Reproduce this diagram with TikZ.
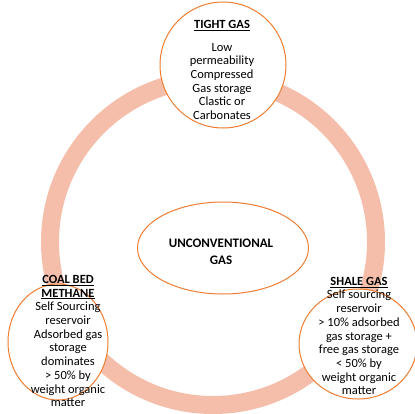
\documentclass[tikz,border=0pt]{standalone}
\usepackage{fontspec}
\setmainfont{Carlito}
\usetikzlibrary{shapes.geometric}

\definecolor{ringpink}{RGB}{245,190,170}
\definecolor{rim}{RGB}{237,125,49}

\begin{document}
\begin{tikzpicture}[x=1pt,y=-1pt,
        gasring/.style={circle,draw=ringpink,line width=18pt,minimum size=326pt,inner sep=0pt},
        bubble/.style={ellipse,draw=rim,fill=white,line width=1pt,inner sep=0pt},
        blurb/.style={align=center,inner sep=0pt,font=\fontsize{12.5}{13.7}\selectfont},
        hub/.style={align=center,inner sep=0pt,font=\fontsize{13}{17.5}\selectfont\bfseries}]
      \useasboundingbox (0,0) rectangle (415,413);
      % the ring behind everything
      \node [gasring] (cycle) at (213,242) {};
      % the four ellipses
      \node [bubble,minimum width=126pt,minimum height=126pt] (tight) at (223,65)  {};
      \node [bubble,minimum width=100pt,minimum height=116pt] (coal)  at (58,342)  {};
      \node [bubble,minimum width=118pt,minimum height=110pt] (shale) at (358,344) {};
      \node [bubble,minimum width=171pt,minimum height=92pt]  (core)  at (223,248) {};
      % their texts
      \node [blurb] (tighttext) at (222,70)
        {\underline{\textbf{TIGHT GAS}}\\[9pt] Low\\ permeability\\ Compressed\\
         Gas storage\\ Clastic or\\ Carbonates};
      \node [blurb] (coaltext) at (68,341)
        {\underline{\textbf{COAL BED}}\\ \underline{\textbf{METHANE}}\\ Self Sourcing\\
         reservoir\\ Adsorbed gas\\ storage\\ dominates\\ > 50\% by\\
         weight organic\\ matter};
      \node [blurb] (shaletext) at (359,336)
        {\underline{\textbf{SHALE GAS}}\\ Self sourcing\\ reservoir\\ > 10\% adsorbed\\
         gas storage +\\ free gas storage\\ < 50\% by\\ weight organic\\ matter};
      \node [hub] (coretext) at (221,252) {UNCONVENTIONAL\\ GAS};
    \end{tikzpicture}
\end{document}
